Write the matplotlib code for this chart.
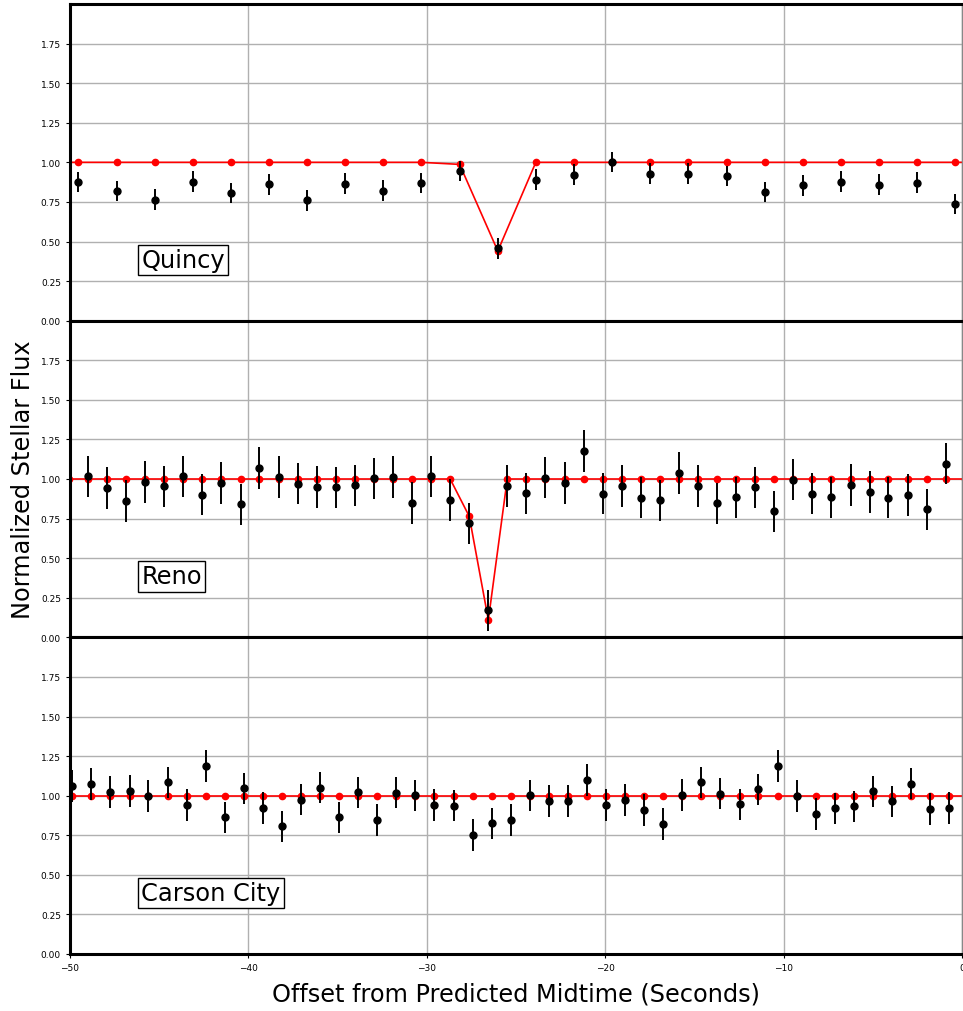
import matplotlib
matplotlib.use("Agg")
import matplotlib.pyplot as plt

nan = float("nan")

# ---------------- data ----------------
quincy_t = [-51.67, -49.53, -47.39, -45.26, -43.12, -40.98, -38.85, -36.71, -34.57, -32.43,
            -30.30, -28.16, -26.02, -23.89, -21.75, -19.61, -17.47, -15.34, -13.20,
            -11.06, -8.93, -6.79, -4.65, -2.51, -0.38, 1.76]
quincy_flux = [nan, 0.875, 0.818, 0.764, 0.878, 0.806, 0.861, 0.759, 0.865, 0.821,
               0.869, 0.945, 0.456, 0.890, 0.922, 1.002, 0.928, 0.928, 0.913,
               0.812, 0.854, 0.878, 0.859, 0.871, 0.736, nan]
quincy_err = [0.065] * len(quincy_t)
quincy_model = [1.0, 1.0, 1.0, 1.0, 1.0, 1.0, 1.0, 1.0, 1.0, 1.0,
                1.0, 0.987, 0.44, 1.0, 1.0, 1.0, 1.0, 1.0, 1.0,
                1.0, 1.0, 1.0, 1.0, 1.0, 1.0, 1.0]

reno_t = [-50.06, -48.99, -47.92, -46.85, -45.79, -44.72, -43.65, -42.58, -41.51, -40.44,
          -39.38, -38.31, -37.24, -36.17, -35.10, -34.03, -32.96, -31.90, -30.83, -29.76,
          -28.69, -27.62, -26.55, -25.49, -24.42, -23.35, -22.28, -21.21, -20.14, -19.07,
          -18.01, -16.94, -15.87, -14.80, -13.73, -12.66, -11.60, -10.53, -9.46, -8.39,
          -7.32, -6.25, -5.18, -4.12, -3.05, -1.98, -0.91, 0.16]
reno_flux = [nan, 1.017, 0.943, 0.861, 0.981, 0.954, 1.017, 0.901, 0.975, 0.840,
             1.070, 1.013, 0.970, 0.949, 0.947, 0.960, 1.004, 1.013, 0.848, 1.017,
             0.867, 0.719, 0.17, 0.956, 0.911, 1.008, 0.975, 1.177, 0.907, 0.956,
             0.882, 0.865, 1.038, 0.956, 0.846, 0.884, 0.947, 0.797, 0.996, 0.907,
             0.884, 0.962, 0.918, 0.882, 0.899, 0.808, 1.097, nan]
reno_err = [0.13] * len(reno_t)
reno_model = [1.0] * 21 + [0.764, 0.11] + [1.0] * 25

carson_t = [-49.87, -48.80, -47.73, -46.66, -45.60, -44.53, -43.46, -42.39, -41.32, -40.25,
            -39.19, -38.12, -37.05, -35.98, -34.91, -33.84, -32.77, -31.71, -30.64, -29.57,
            -28.50, -27.43, -26.36, -25.30, -24.23, -23.16, -22.09, -21.02, -19.95, -18.88,
            -17.82, -16.75, -15.68, -14.61, -13.54, -12.47, -11.41, -10.34, -9.27, -8.20,
            -7.13, -6.06, -4.99, -3.93, -2.86, -1.79, -0.72, 0.35]
carson_flux = [1.059, 1.074, 1.025, 1.030, 0.996, 1.084, 0.941, 1.188, 0.863, 1.046,
               0.924, 0.806, 0.975, 1.051, 0.863, 1.021, 0.846, 1.019, 1.002, 0.939,
               0.937, 0.753, 0.825, 0.846, 1.002, 0.966, 0.966, 1.099, 0.941, 0.973,
               0.909, 0.823, 1.006, 1.084, 1.013, 0.945, 1.040, 1.186, 0.998, 0.884,
               0.920, 0.932, 1.027, 0.964, 1.076, 0.916, 0.924, nan]
carson_err = [0.10] * len(carson_t)
carson_model = [1.0] * len(carson_t)

panels = [
    ("Quincy", quincy_t, quincy_flux, quincy_err, quincy_model),
    ("Reno", reno_t, reno_flux, reno_err, reno_model),
    ("Carson City", carson_t, carson_flux, carson_err, carson_model),
]

yticks = [0.0, 0.25, 0.5, 0.75, 1.0, 1.25, 1.5, 1.75]
xticks = [-50, -40, -30, -20, -10, 0]

# ---------------- figure ----------------
fig = plt.figure(figsize=(9.63, 10.12), dpi=100)
fig.subplots_adjust(left=70/963, right=962/963, top=1-5/1012, bottom=1-955/1012, hspace=0)
axes = fig.subplots(3, 1, sharex=True)

for ax, (name, t, f, e, m) in zip(axes, panels):
    ax.grid(True, color="#b0b0b0", linewidth=1.0)
    ax.set_axisbelow(True)
    ax.plot(t, m, color="red", linewidth=1.2, marker="o", markersize=4.5, zorder=2)
    ax.errorbar(t, f, yerr=e, fmt="o", color="black", ecolor="black",
                elinewidth=1.4, markersize=5, capsize=0, zorder=3)
    ax.set_xlim(-50, 0)
    ax.set_ylim(0, 2)
    ax.set_yticks(yticks)
    ax.set_xticks(xticks)
    ax.tick_params(axis="both", labelsize=6.5, length=3, width=0.8)
    for side in ("left", "top", "bottom"):
        ax.spines[side].set_linewidth(2.2)
        ax.spines[side].set_color("black")
    ax.spines["right"].set_linewidth(1.0)
    ax.spines["right"].set_color("#888888")
    ax.text(-46.0, 0.385, name, fontsize=17.4, ha="left", va="center",
            bbox=dict(boxstyle="square,pad=0.13", facecolor="white", edgecolor="black", linewidth=1.0),
            zorder=5)

for ax in axes[:-1]:
    ax.tick_params(axis="x", labelbottom=False)

fig.text(0.024, (1 - 5/1012 + 1 - 955/1012) / 2, "Normalized Stellar Flux",
         rotation=90, fontsize=17.3, ha="center", va="center")
fig.text((70/963 + 962/963) / 2, 1 - 995/1012, "Offset from Predicted Midtime (Seconds)",
         fontsize=17.3, ha="center", va="center")

fig.savefig("out.png", dpi=100)
